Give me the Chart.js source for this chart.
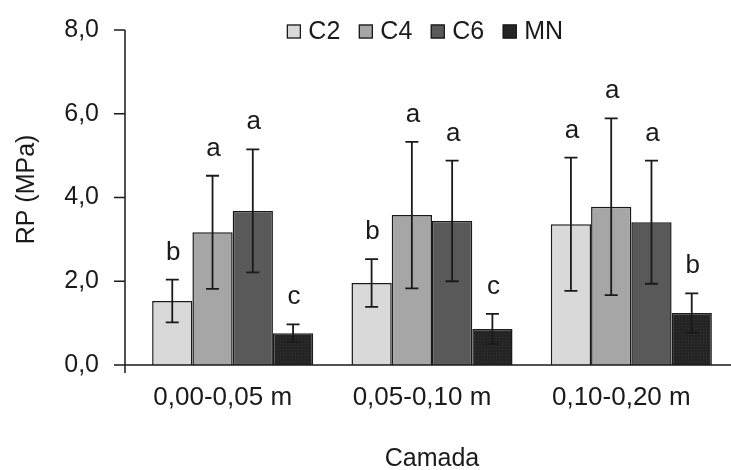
<!DOCTYPE html>
<html>
<head>
<meta charset="utf-8">
<script src="https://cdn.jsdelivr.net/npm/chart.js@4/dist/chart.umd.min.js"></script>
<style>
  html, body { margin: 0; padding: 0; background: #fff; }
  #wrap { width: 731px; height: 470px; position: relative; }
</style>
</head>
<body>
<div id="wrap"><canvas id="c"></canvas></div>
<script>
// ---- data ----
const categories = ['0,00-0,05 m', '0,05-0,10 m', '0,10-0,20 m'];
const seriesNames = ['C2', 'C4', 'C6', 'MN'];
const C2 = [1.53, 1.96, 3.36];
const C4 = [3.17, 3.58, 3.78];
const C6 = [3.68, 3.44, 3.41];
const MN = [0.76, 0.86, 1.24];
const errC2 = [0.51, 0.57, 1.59];
const errC4 = [1.35, 1.75, 2.11];
const errC6 = [1.47, 1.44, 1.47];
const errMN = [0.21, 0.36, 0.47];
const lettersC2 = ['b', 'b', 'a'];
const lettersC4 = ['a', 'a', 'a'];
const lettersC6 = ['a', 'a', 'a'];
const lettersMN = ['c', 'c', 'b'];
const yTicks = [0, 2, 4, 6, 8];
const xTitle = 'Camada';
const yTitle = 'RP (MPa)';

// ---- styling ----
const FONT = '"Liberation Sans", Arial, sans-serif';
const INK = '#1a1a1a';

function dotPattern() {
  const c = document.createElement('canvas');
  c.width = 3; c.height = 3;
  const g = c.getContext('2d');
  g.fillStyle = '#242424';
  g.fillRect(0, 0, 3, 3);
  g.fillStyle = '#323232';
  g.fillRect(1, 1, 1, 1);
  return g.createPattern(c, 'repeat');
}

const fills = ['#d9d9d9', '#a6a6a6', '#595959', dotPattern()];
const values = [C2, C4, C6, MN];
const errors = [errC2, errC4, errC6, errMN];
const letters = [lettersC2, lettersC4, lettersC6, lettersMN];

const datasets = seriesNames.map((name, i) => ({
  label: name,
  data: values[i],
  errors: errors[i],
  letters: letters[i],
  backgroundColor: fills[i],
  borderColor: INK,
  borderWidth: 1.5,
  borderSkipped: 'bottom',
  categoryPercentage: 0.808,
  barPercentage: 1.0
}));

// error bars + significance letters
const errorBarPlugin = {
  id: 'errorBars',
  afterDatasetsDraw(chart) {
    const ctx = chart.ctx;
    const y = chart.scales.y;
    ctx.save();
    chart.data.datasets.forEach((ds, i) => {
      const meta = chart.getDatasetMeta(i);
      meta.data.forEach((bar, j) => {
        const v = ds.data[j], e = ds.errors[j];
        const yt = y.getPixelForValue(v + e);
        const yb = y.getPixelForValue(v - e);
        const x = bar.x;
        ctx.strokeStyle = INK;
        ctx.lineWidth = 1.8;
        ctx.beginPath();
        ctx.moveTo(x, yt); ctx.lineTo(x, yb);
        ctx.moveTo(x - 6.5, yt); ctx.lineTo(x + 6.5, yt);
        ctx.moveTo(x - 6.5, yb); ctx.lineTo(x + 6.5, yb);
        ctx.stroke();
        ctx.fillStyle = INK;
        ctx.font = '26px ' + FONT;
        ctx.textAlign = 'center';
        ctx.textBaseline = 'alphabetic';
        ctx.fillText(ds.letters[j], x + 1, yt - 20);
      });
    });
    ctx.restore();
  }
};

// Excel-like axis lines and outward ticks
const axesPlugin = {
  id: 'excelAxes',
  afterDraw(chart) {
    const ctx = chart.ctx;
    const a = chart.chartArea;
    const y = chart.scales.y;
    const ax = a.left - 8;
    ctx.save();
    ctx.strokeStyle = INK;
    ctx.lineWidth = 1.5;
    ctx.beginPath();
    ctx.moveTo(ax, y.getPixelForValue(8));
    ctx.lineTo(ax, a.bottom + 8);
    yTicks.forEach(t => {
      const py = y.getPixelForValue(t);
      ctx.moveTo(ax - 11, py);
      ctx.lineTo(ax, py);
    });
    ctx.moveTo(ax - 11, a.bottom);
    ctx.lineTo(a.right, a.bottom);
    ctx.stroke();

    // y axis title
    ctx.fillStyle = INK;
    ctx.font = '25px ' + FONT;
    ctx.textAlign = 'center';
    ctx.textBaseline = 'middle';
    ctx.translate(27.5, (a.top + a.bottom) / 2 - 8);
    ctx.rotate(-Math.PI / 2);
    ctx.fillText(yTitle, 0, 0);
    ctx.restore();
  }
};

// compact legend (small square + label)
const legendPlugin = {
  id: 'compactLegend',
  afterDraw(chart) {
    const ctx = chart.ctx;
    const a = chart.chartArea;
    const box = 14, gap = 7.5, spacing = 18.5;
    ctx.save();
    ctx.font = '25px ' + FONT;
    const items = chart.data.datasets.map(ds => ({
      text: ds.label, fill: ds.backgroundColor, w: ctx.measureText(ds.label).width
    }));
    const total = items.reduce((s, it) => s + box + gap + it.w, 0) + spacing * (items.length - 1);
    let x = (a.left + a.right) / 2 - 7 - total / 2;
    const cy = 31.5;
    items.forEach(it => {
      ctx.fillStyle = it.fill;
      ctx.fillRect(x, cy - box / 2, box, box);
      ctx.strokeStyle = INK;
      ctx.lineWidth = 1.3;
      ctx.strokeRect(x + 0.5, cy - box / 2 + 0.5, box - 1, box - 1);
      ctx.fillStyle = INK;
      ctx.textAlign = 'left';
      ctx.textBaseline = 'middle';
      ctx.fillText(it.text, x + box + gap, cy + 1);
      x += box + gap + it.w + spacing;
    });
    ctx.restore();
  }
};

new Chart(document.getElementById('c'), {
  type: 'bar',
  data: { labels: categories, datasets },
  plugins: [errorBarPlugin, axesPlugin, legendPlugin],
  options: {
    responsive: true,
    maintainAspectRatio: false,
    animation: false,
    devicePixelRatio: 1,
    layout: { padding: { top: 30, right: 0, bottom: 0, left: 0 } },
    plugins: {
      legend: { display: false },
      tooltip: { enabled: false }
    },
    scales: {
      x: {
        grid: { display: false, drawTicks: false },
        border: { display: false },
        ticks: {
          color: INK,
          font: { family: FONT, size: 26 },
          padding: 17,
          labelOffset: -10,
          maxRotation: 0
        },
        title: {
          display: true,
          text: xTitle,
          color: INK,
          font: { family: FONT, size: 25, lineHeight: 0.9 },
          padding: { top: 0, bottom: 0 }
        },
        afterFit(scale) { scale.height = 105; }
      },
      y: {
        min: 0,
        max: 8,
        grid: { display: false, drawTicks: true, tickLength: 34 },
        border: { display: false },
        afterBuildTicks(scale) { scale.ticks = yTicks.map(v => ({ value: v })); },
        ticks: {
          color: INK,
          font: { family: FONT, size: 25 },
          padding: 0,
          callback: v => Number(v).toFixed(1).replace('.', ',')
        },
        afterFit(scale) { scale.width = 133; }
      }
    }
  }
});
</script>
</body>
</html>
